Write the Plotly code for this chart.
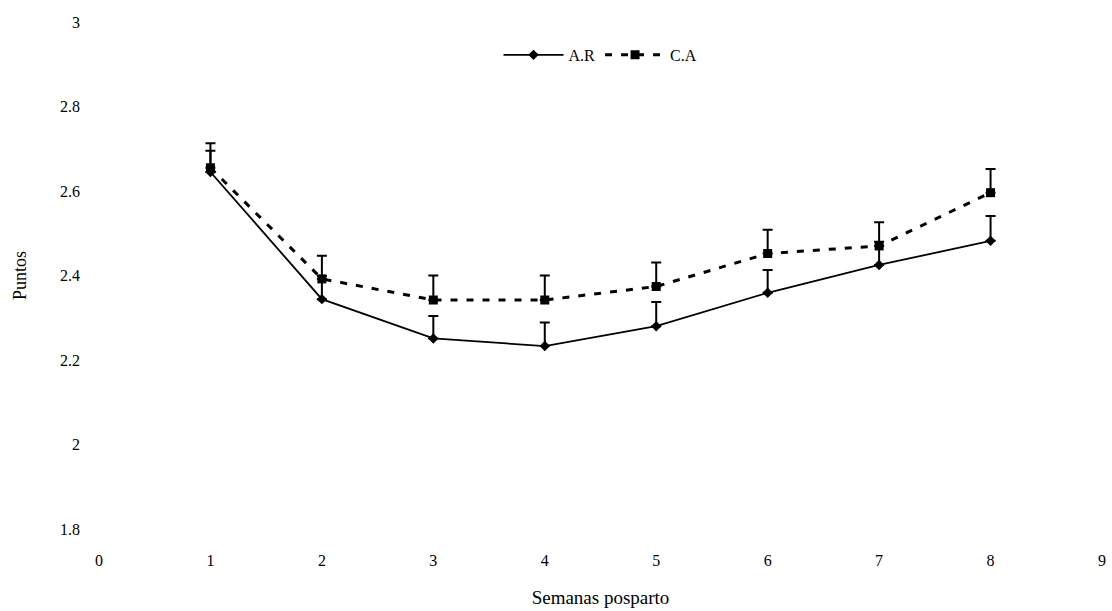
import plotly.graph_objects as go

# Semanas posparto
semanas = [1, 2, 3, 4, 5, 6, 7, 8]

# Mean scores per group
ar_vals = [2.645, 2.344, 2.251, 2.233, 2.280, 2.359, 2.425, 2.482]
ca_vals = [2.655, 2.392, 2.342, 2.342, 2.374, 2.452, 2.470, 2.596]

# Upper error (standard error)
ar_err = [0.050, 0.055, 0.053, 0.056, 0.057, 0.054, 0.055, 0.059]
ca_err = [0.058, 0.055, 0.058, 0.058, 0.057, 0.056, 0.056, 0.056]

x_ticks = [0, 1, 2, 3, 4, 5, 6, 7, 8, 9]
y_ticks = [1.8, 2.0, 2.2, 2.4, 2.6, 2.8, 3.0]
y_tick_text = ["1.8", "2", "2.2", "2.4", "2.6", "2.8", "3"]

FONT = "Liberation Serif, Times New Roman, serif"

fig = go.Figure()

fig.add_trace(go.Scatter(
    x=semanas, y=ar_vals, name="A.R", mode="lines+markers",
    line=dict(color="black", width=1.8, dash="solid"),
    marker=dict(symbol="diamond", size=8, color="black"),
    error_y=dict(type="data", symmetric=False, array=ar_err,
                 arrayminus=[0] * len(ar_err), color="black",
                 thickness=2, width=5),
))

fig.add_trace(go.Scatter(
    x=semanas, y=ca_vals, name="C.A", mode="lines+markers",
    line=dict(color="black", width=3, dash="7px,9px"),
    marker=dict(symbol="square", size=9, color="black"),
    error_y=dict(type="data", symmetric=False, array=ca_err,
                 arrayminus=[0] * len(ca_err), color="black",
                 thickness=2, width=5),
))

fig.update_layout(
    width=1112, height=611,
    margin=dict(l=99, r=6, t=22, b=82),
    paper_bgcolor="white", plot_bgcolor="white",
    font=dict(family=FONT, size=15, color="black"),
    showlegend=True,
    legend=dict(orientation="h", x=0.5, xanchor="center", y=0.935,
                yanchor="middle", font=dict(family=FONT, size=16),
                bgcolor="rgba(0,0,0,0)", itemwidth=60, traceorder="normal"),
    xaxis=dict(range=[0, 9], tickmode="array", tickvals=x_ticks,
               showgrid=False, zeroline=False, showline=False, ticks="",
               ticklabelstandoff=20,
               tickfont=dict(family=FONT, size=16),
               title=dict(text="Semanas posparto", standoff=22,
                          font=dict(family=FONT, size=19))),
    yaxis=dict(range=[1.8, 3.0], tickmode="array", tickvals=y_ticks,
               ticktext=y_tick_text,
               showgrid=False, zeroline=False, showline=False, ticks="",
               ticklabelstandoff=18,
               tickfont=dict(family=FONT, size=16),
               title=dict(text="Puntos", standoff=28,
                          font=dict(family=FONT, size=18))),
)

fig.write_html("out.html")
